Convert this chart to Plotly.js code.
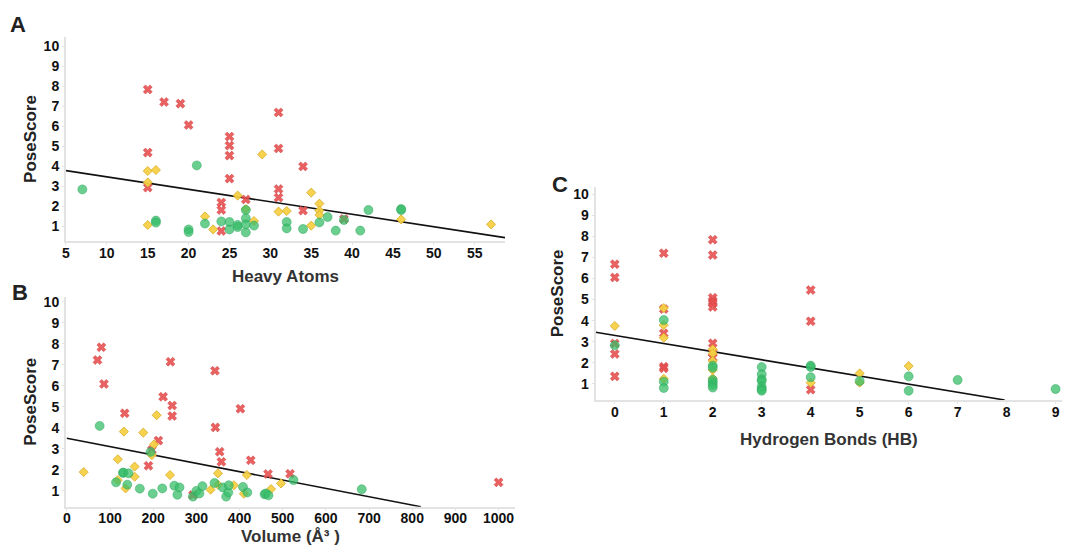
<!DOCTYPE html>
<html>
<head>
<meta charset="utf-8">
<script src="https://cdn.plot.ly/plotly-3.0.1.min.js"></script>
<style>html,body{margin:0;padding:0;background:#fff;}#chart{width:1066px;height:546px;}</style>
</head>
<body>
<div id="chart"></div>
<script>
// ---------- Panel A: Heavy Atoms ----------
var haRedX = [15,17,19,20,15,15,25,25,25,25,24,24,24,27,31,31,31,31,34,34,39];
var haRedY = [7.83,7.2,7.12,6.05,4.67,2.92,5.47,5.02,4.52,3.37,2.18,1.8,0.75,2.33,6.68,4.88,2.85,2.42,3.98,1.77,1.35];
var haYelX = [15,16,15,15,22,23,26,27,28,29,31,32,35,35,36,36,36,46,57];
var haYelY = [3.75,3.8,3.18,1.05,1.48,0.83,2.52,1.85,1.25,4.58,1.72,1.75,2.67,1.02,2.12,1.77,1.55,1.33,1.08];
var haGrnX = [7,16,16,20,20,21,22,24,25,25,26,26,27,27,27,27,28,32,32,34,36,37,38,39,41,42,46,46];
var haGrnY = [2.83,1.27,1.17,0.83,0.7,4.03,1.12,1.23,1.2,0.83,1.05,0.95,1.8,1.38,1.08,0.68,1.02,1.2,0.88,0.85,1.18,1.45,0.77,1.3,0.77,1.8,1.85,1.8];
var haFitX = [5, 58.7];
var haFitY = [3.77, 0.42];

// ---------- Panel B: Volume ----------
var volRedX = [71,80,86,134,240,223,244,244,212,197,189,343,344,354,358,402,426,466,517,1000,292];
var volRedY = [7.23,7.84,6.09,4.69,7.15,5.48,5.06,4.56,3.39,2.94,2.19,6.72,4.02,2.86,2.38,4.91,2.45,1.8,1.81,1.4,0.8];
var volYelX = [39,118,118,132,136,157,157,177,208,202,197,239,333,350,350,387,417,410,473,496];
var volYelY = [1.89,2.5,1.51,3.82,1.11,2.15,1.67,3.77,4.6,3.21,2.7,1.75,1.05,1.83,1.29,1.26,1.75,0.86,1.08,1.35];
var volGrnX = [76,114,130,131,143,140,169,194,199,221,249,256,261,292,300,307,314,342,361,369,374,375,408,418,458,461,467,525,683];
var volGrnY = [4.09,1.4,1.86,1.86,1.83,1.29,1.1,2.85,0.86,1.11,1.24,0.81,1.16,0.72,0.99,0.87,1.22,1.37,1.16,0.72,0.92,1.26,1.18,0.92,0.83,0.87,0.78,1.51,1.07];
var volFitX = [0, 820];
var volFitY = [3.5, 0.24];

// ---------- Panel C: Hydrogen Bonds ----------
var hbRedX = [0,0,0,0,0,1,1,1,1,1,2,2,2,2,2,2,2,2,2,4,4,4];
var hbRedY = [6.68,6.05,2.92,2.42,1.36,7.2,4.55,3.4,1.82,1.74,7.84,7.11,5.09,4.93,4.82,4.65,2.93,2.48,2.25,5.45,3.97,0.73];
var hbYelX = [0,1,1,1,1,2,2,2,2,2,4,5,5,6];
var hbYelY = [3.75,4.6,3.79,3.19,1.25,2.64,2.45,2.09,1.66,1.27,1.06,1.5,1.06,1.85];
var hbGrnX = [0,1,1,1,2,2,2,2,2,2,3,3,3,3,3,3,3,4,4,4,5,6,6,7,9];
var hbGrnY = [2.83,4.03,1.11,0.81,1.87,1.77,1.19,1.08,0.95,0.83,1.8,1.46,1.22,1.14,0.87,0.75,0.68,1.87,1.8,1.32,1.14,1.36,0.68,1.19,0.76];
var hbFitX = [-0.39, 7.96];
var hbFitY = [3.45, 0.24];

var yTickVals = [1,2,3,4,5,6,7,8,9,10];
var haTickVals = [5,10,15,20,25,30,35,40,45,50,55];
var volTickVals = [0,100,200,300,400,500,600,700,800,900,1000];
var hbTickVals = [0,1,2,3,4,5,6,7,8,9];

var FONT = "Liberation Sans, Arial, sans-serif";
var redM = {symbol:'x', size:8, color:'rgba(232,80,80,0.9)', line:{width:0.5, color:'rgba(200,60,60,0.9)'}};
var yelM = {symbol:'diamond', size:7, color:'rgba(246,208,70,0.95)', line:{width:0.8, color:'#d7ac2a'}};
var grnM = {symbol:'circle', size:9, color:'rgba(56,190,106,0.75)', line:{width:0.6, color:'rgba(40,165,88,0.8)'}};

function pts(x, y, m, xa, ya){
  return {x:x, y:y, type:'scatter', mode:'markers', marker:m, xaxis:xa, yaxis:ya, hoverinfo:'x+y', showlegend:false};
}
function fit(x, y, xa, ya){
  return {x:x, y:y, type:'scatter', mode:'lines', line:{color:'#111', width:1.6}, xaxis:xa, yaxis:ya, showlegend:false, cliponaxis:false};
}

var data = [
  fit(haFitX, haFitY, 'x', 'y'),
  pts(haRedX, haRedY, redM, 'x', 'y'),
  pts(haYelX, haYelY, yelM, 'x', 'y'),
  pts(haGrnX, haGrnY, grnM, 'x', 'y'),
  fit(volFitX, volFitY, 'x2', 'y2'),
  pts(volRedX, volRedY, redM, 'x2', 'y2'),
  pts(volYelX, volYelY, yelM, 'x2', 'y2'),
  pts(volGrnX, volGrnY, grnM, 'x2', 'y2'),
  fit(hbFitX, hbFitY, 'x3', 'y3'),
  pts(hbRedX, hbRedY, redM, 'x3', 'y3'),
  pts(hbYelX, hbYelY, yelM, 'x3', 'y3'),
  pts(hbGrnX, hbGrnY, grnM, 'x3', 'y3')
];

function xAxis(domain, range, vals, title, anchor, standoff){
  return {domain:domain, range:range, anchor:anchor, tickmode:'array', tickvals:vals,
    showgrid:false, zeroline:false, showline:true, linecolor:'#e3e3e3', linewidth:2,
    ticks:'outside', ticklen:2, tickcolor:'#e3e3e3', tickwidth:1, ticklabelstandoff:-4,
    tickfont:{family:FONT, size:14, color:'#111', weight:'bold'},
    title:{text:title, standoff:standoff, font:{family:FONT, size:17, color:'#333', weight:'bold'}}};
}
function yAxis(domain, range, title, anchor, standoff){
  return {domain:domain, range:range, anchor:anchor, tickmode:'array', tickvals:yTickVals,
    showgrid:false, zeroline:false, showline:true, linecolor:'#e3e3e3', linewidth:2,
    ticks:'outside', ticklen:2, tickcolor:'#e3e3e3', tickwidth:1,
    tickfont:{family:FONT, size:14, color:'#111', weight:'bold'},
    title:{text:title, standoff:standoff, font:{family:FONT, size:17, color:'#222', weight:'bold'}}};
}

var layout = {
  width:1066, height:546,
  margin:{l:0, r:0, t:0, b:0},
  paper_bgcolor:'#fff', plot_bgcolor:'#fff',
  showlegend:false,
  xaxis: xAxis([0.0619,0.4737],[5,58.7],haTickVals,'Heavy Atoms','y',10),
  yaxis: yAxis([0.5586,0.9322],[0.25,10.45],'PoseScore','x',3),
  xaxis2: xAxis([0.0619,0.4831],[-2,1038],volTickVals,'Volume (Å³ )','y2',5),
  yaxis2: yAxis([0.072,0.4566],[0.24,10.25],'PoseScore','x2',3),
  xaxis3: xAxis([0.5588,0.9962],[-0.39,9.13],hbTickVals,'Hydrogen Bonds (HB)','y3',14),
  yaxis3: yAxis([0.2674,0.658],[0.24,10.35],'PoseScore','x3',5),
  annotations:[
    {text:'A', x:18/1066, y:1-25/546, xref:'paper', yref:'paper', showarrow:false, xanchor:'center', yanchor:'middle', font:{family:FONT, size:22, color:'#222', weight:'bold'}},
    {text:'B', x:20/1066, y:1-292/546, xref:'paper', yref:'paper', showarrow:false, xanchor:'center', yanchor:'middle', font:{family:FONT, size:22, color:'#222', weight:'bold'}},
    {text:'C', x:560/1066, y:1-184/546, xref:'paper', yref:'paper', showarrow:false, xanchor:'center', yanchor:'middle', font:{family:FONT, size:22, color:'#222', weight:'bold'}}
  ]
};

Plotly.newPlot('chart', data, layout, {displayModeBar:false, staticPlot:true});
</script>
</body>
</html>
